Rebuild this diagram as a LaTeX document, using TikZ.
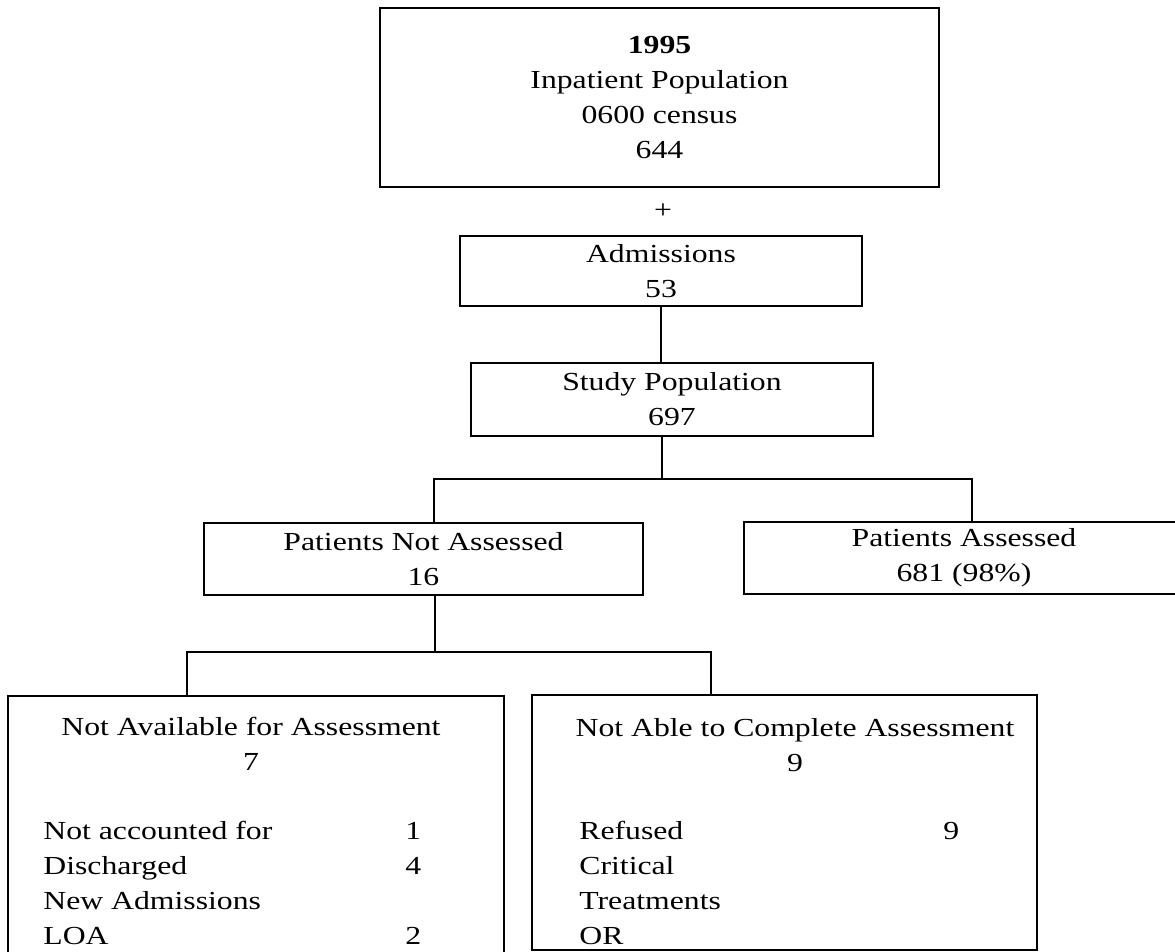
\documentclass[tikz,border=0pt]{standalone}
\usepackage{fontspec}
\setmainfont{Liberation Serif}[FakeStretch=1.22]

\begin{document}
\begin{tikzpicture}[x=0.5pt, y=-0.5pt, font=\fontsize{13}{17.6}\selectfont,
        kasten/.style={draw, line width=1.4pt, inner sep=0pt, align=center},
        linie/.style={line width=1pt}]
        \useasboundingbox (0,0) rectangle (1175,952);
        \clip (0,0) rectangle (1175,952);

        % 绘制上部的框
        \node[kasten, minimum width=279.5pt, minimum height=89.5pt] (census) at (659.5,97.5) {\textbf{1995}\\Inpatient Population\\0600 census\\644};
        \node (plus) at (663,211) {+};
        \node[kasten, minimum width=201pt, minimum height=35pt] (adm) at (661,271) {Admissions\\53};
        \node[kasten, minimum width=201pt, minimum height=36.5pt] (study) at (672,399.5) {Study Population\\697};

        % 第二层
        \node[kasten, minimum width=219.5pt, minimum height=36pt] (notass) at (423.5,559) {Patients Not Assessed\\16};
        \node[kasten, minimum width=220pt, minimum height=36pt] (ass) at (964,558) {Patients Assessed\\681 (98\%)};

        % 底部的两个框
        \node[kasten, minimum width=248pt, minimum height=152pt] (avail) at (256,848) {};
        \node[kasten, minimum width=252.5pt, minimum height=127.5pt] (unable) at (784.5,822.5) {};
        \node[align=center] (availhead) at (251,744) {Not Available for Assessment\\7};
        \node[align=center] (unablehead) at (795,745) {Not Able to Complete Assessment\\9};
        \node[anchor=north west, inner sep=0pt] (availlist) at (43,814) {
            \begin{tabular}{@{}p{181pt}@{}l@{}}
                Not accounted for & 1\\
                Discharged & 4\\
                New Admissions & \\
                LOA & 2
            \end{tabular}
        };
        \node[anchor=north west, inner sep=0pt] (unablelist) at (579,814) {
            \begin{tabular}{@{}p{182pt}@{}l@{}}
                Refused & 9\\
                Critical & \\
                Treatments & \\
                OR &
            \end{tabular}
        };

        % 连接线
        \coordinate (knot1) at (662,479);
        \coordinate (knot1l) at (434,479);
        \coordinate (knot1r) at (972,479);
        \coordinate (knot2) at (435,652);
        \coordinate (knot2l) at (187,652);
        \coordinate (knot2r) at (711,652);
        \draw[linie] (adm.south) -- (adm.south |- study.north);
        \draw[linie] (study.south -| knot1) -- (knot1);
        \draw[linie] (notass.north -| knot1l) -- (knot1l) -- (knot1r) -- (ass.north -| knot1r);
        \draw[linie] (notass.south -| knot2) -- (knot2);
        \draw[linie] (avail.north -| knot2l) -- (knot2l) -- (knot2r) -- (unable.north -| knot2r);
    \end{tikzpicture}
\end{document}
